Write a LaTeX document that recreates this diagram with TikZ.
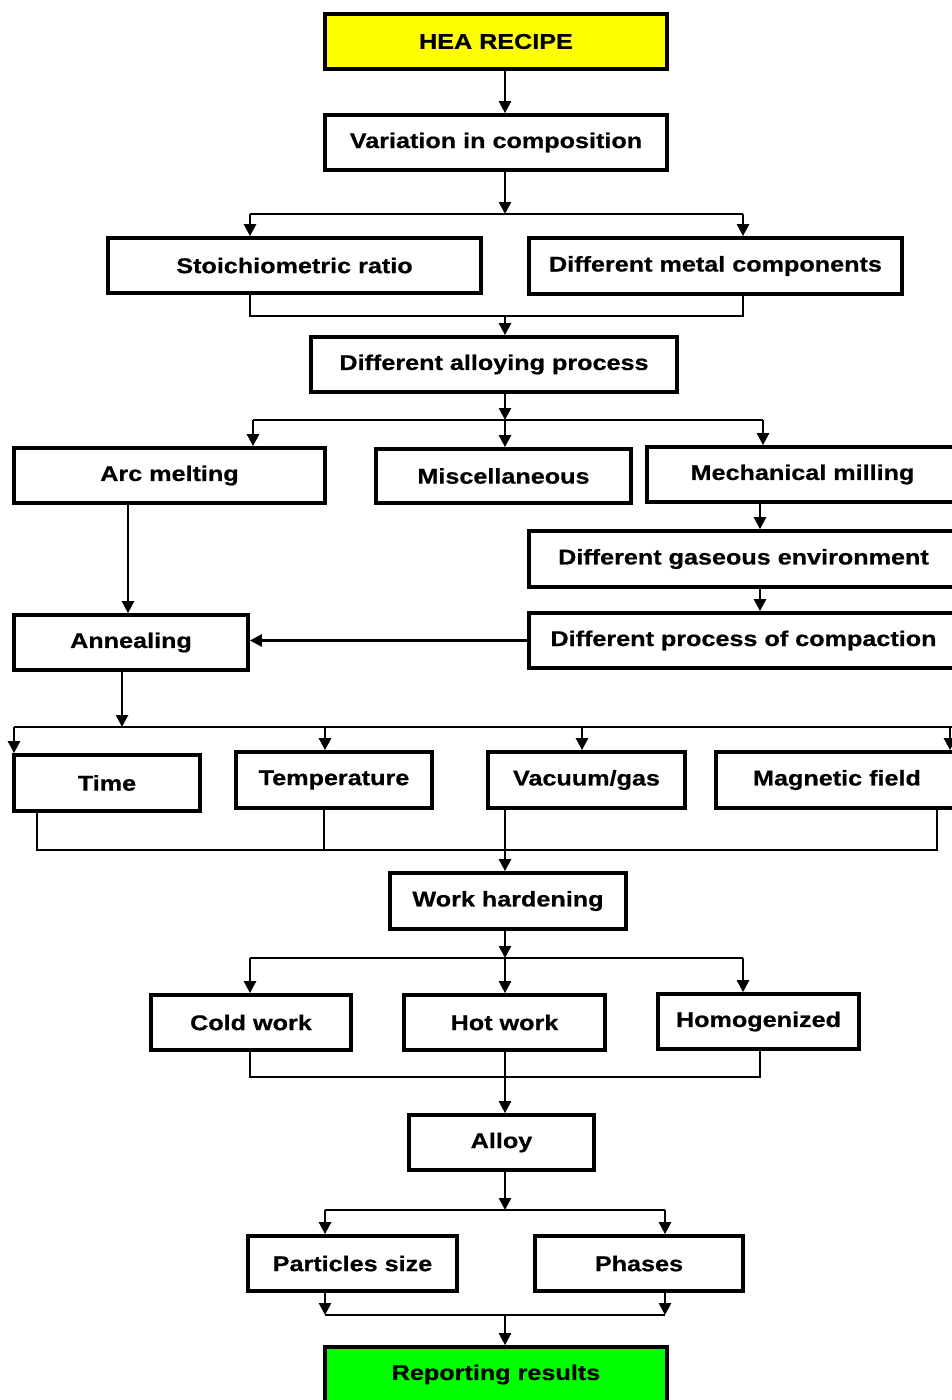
\documentclass[tikz,border=0pt]{standalone}
\usepackage{fontspec}
\setmainfont{Liberation Sans}[FakeStretch=1.2]
\newfontfamily\boxfont{Liberation Sans}[FakeStretch=1.18,FakeBold=0.6]
\usetikzlibrary{arrows.meta}
\definecolor{heayellow}{RGB}{255,255,0}
\definecolor{repgreen}{RGB}{0,255,0}
\tikzset{
  box/.style={draw, line width=2.8pt, inner sep=0pt, align=center,
    font=\fontsize{16}{18}\selectfont\boxfont\bfseries},
  conn/.style={line width=1.9pt},
  arr/.style={conn, -{Triangle[length=9pt,width=9pt]}},
}
\begin{document}
\begin{tikzpicture}[x=0.75pt,y=-0.75pt]
\path[use as bounding box, clip] (0,0) rectangle (952,1400);
\fill[white] (0,0) rectangle (952,1400);

% nodes
\node[box, fill=heayellow, minimum width=256.5pt, minimum height=41.25pt] (hea) at (496,41.5) {HEA RECIPE};
\node[box, minimum width=256.5pt, minimum height=41.25pt] (var) at (496,142.5) {Variation in composition};
\node[box, minimum width=279.75pt, minimum height=41.25pt] (stoich) at (294.5,265.5) {Stoichiometric ratio};
\node[box, minimum width=279.75pt, minimum height=42pt] (metal) at (715.5,266) {Different metal components};
\node[box, minimum width=274.5pt, minimum height=41.25pt] (alloying) at (494,364.5) {Different alloying process};
\node[box, minimum width=233.25pt, minimum height=41.25pt] (arc) at (169.5,475.5) {Arc melting};
\node[box, minimum width=191.25pt, minimum height=40.5pt] (misc) at (503.5,476) {Miscellaneous};
\node[box, minimum width=233.25pt, minimum height=41.25pt] (mech) at (802.5,474.5) {Mechanical milling};
\node[box, minimum width=321.75pt, minimum height=42pt] (gas) at (743.5,559) {Different gaseous environment};
\node[box, minimum width=321.75pt, minimum height=41.25pt] (comp) at (743.5,640.5) {Different process of compaction};
\node[box, minimum width=175.5pt, minimum height=41.25pt] (anneal) at (131,642.5) {Annealing};
\node[box, minimum width=139.5pt, minimum height=42pt] (time) at (107,783) {Time};
\node[box, minimum width=147pt, minimum height=42pt] (temp) at (334,780) {Temperature};
\node[box, minimum width=147.75pt, minimum height=42pt] (vac) at (586.5,780) {Vacuum/gas};
\node[box, minimum width=181.5pt, minimum height=42pt] (mag) at (837,780) {Magnetic field};
\node[box, minimum width=177pt, minimum height=42pt] (work) at (508,901) {Work hardening};
\node[box, minimum width=150pt, minimum height=41.25pt] (cold) at (251,1022.5) {Cold work};
\node[box, minimum width=150.75pt, minimum height=41.25pt] (hot) at (504.5,1022.5) {Hot work};
\node[box, minimum width=150.75pt, minimum height=41.25pt] (homog) at (758.5,1021.5) {Homogenized};
\node[box, minimum width=138.75pt, minimum height=41.25pt] (alloy) at (501.5,1142.5) {Alloy};
\node[box, minimum width=156.75pt, minimum height=41.25pt] (part) at (352.5,1263.5) {Particles size};
\node[box, minimum width=156pt, minimum height=41.25pt] (phase) at (639,1263.5) {Phases};
\node[box, fill=repgreen, minimum width=256.5pt, minimum height=41.25pt] (rep) at (496,1374.5) {Reporting results};

% reference x positions
\coordinate (xm) at (505,0);
\coordinate (xr) at (760,0);
\coordinate (xa) at (128,0);

% HEA -> Variation
\draw[arr] (hea.south -| xm) -- (var.north -| xm);

% split 1
\coordinate (t1) at (505,214);
\coordinate (t1l) at (250,214);
\coordinate (t1r) at (743,214);
\draw[arr] (var.south -| xm) -- (t1);
\draw[conn] (t1l) -- (t1r);
\draw[arr] (t1l) -- (t1l |- stoich.north);
\draw[arr] (t1r) -- (t1r |- metal.north);

% merge 1
\coordinate (m1) at (505,316);
\coordinate (m1l) at (250,316);
\coordinate (m1r) at (743,316);
\draw[conn] (stoich.south -| m1l) -- (m1l) -- (m1r) -- (metal.south -| m1r);
\draw[arr] (m1) -- (alloying.north -| m1);

% split 2
\coordinate (t2) at (505,420);
\coordinate (t2l) at (253,420);
\coordinate (t2r) at (763,420);
\draw[arr] (alloying.south -| xm) -- (t2);
\draw[conn] (t2l) -- (t2r);
\draw[arr] (t2l) -- (t2l |- arc.north);
\draw[arr] (t2) -- (t2 |- misc.north);
\draw[arr] (t2r) -- (t2r |- mech.north);

% milling chain
\draw[arr] (mech.south -| xr) -- (gas.north -| xr);
\draw[arr] (gas.south -| xr) -- (comp.north -| xr);
\draw[arr] (comp.west) -- (comp.west -| anneal.east);

% arc -> annealing
\draw[arr] (arc.south -| xa) -- (anneal.north -| xa);

% split 3
\coordinate (t3) at (122,727);
\coordinate (t3l) at (14,727);
\coordinate (t3r) at (958,727);
\coordinate (t3a) at (325,727);
\coordinate (t3b) at (582,727);
\coordinate (t3c) at (950,727);
\draw[arr] (anneal.south -| t3) -- (t3);
\draw[conn] (t3l) -- (t3r);
\draw[arr] (t3l) -- (t3l |- time.north);
\draw[arr] (t3a) -- (t3a |- temp.north);
\draw[arr] (t3b) -- (t3b |- vac.north);
\draw[arr] (t3c) -- (t3c |- mag.north);

% merge 3
\coordinate (m3l) at (37,850);
\coordinate (m3c) at (324,850);
\coordinate (m3r) at (937,850);
\draw[conn] (time.south -| m3l) -- (m3l) -- (m3r) -- (mag.south -| m3r);
\draw[conn] (temp.south -| m3c) -- (m3c);
\draw[arr] (vac.south -| xm) -- (work.north -| xm);

% split 4
\coordinate (t4) at (505,958);
\coordinate (t4l) at (250,958);
\coordinate (t4r) at (743,958);
\draw[arr] (work.south -| xm) -- (t4);
\draw[conn] (t4l) -- (t4r);
\draw[arr] (t4l) -- (t4l |- cold.north);
\draw[arr] (t4) -- (t4 |- hot.north);
\draw[arr] (t4r) -- (t4r |- homog.north);

% merge 4
\coordinate (m4l) at (250,1077);
\coordinate (m4r) at (760,1077);
\draw[conn] (cold.south -| m4l) -- (m4l) -- (m4r) -- (homog.south -| m4r);
\draw[arr] (hot.south -| xm) -- (alloy.north -| xm);

% split 5
\coordinate (t5) at (505,1210);
\coordinate (t5l) at (325,1210);
\coordinate (t5r) at (665,1210);
\draw[arr] (alloy.south -| xm) -- (t5);
\draw[conn] (t5l) -- (t5r);
\draw[arr] (t5l) -- (t5l |- part.north);
\draw[arr] (t5r) -- (t5r |- phase.north);

% merge 5
\coordinate (m5) at (505,1315);
\coordinate (m5l) at (325,1315);
\coordinate (m5r) at (665,1315);
\draw[arr] (part.south -| m5l) -- (m5l);
\draw[arr] (phase.south -| m5r) -- (m5r);
\draw[conn] (m5l) -- (m5r);
\draw[arr] (m5) -- (rep.north -| m5);
\end{tikzpicture}
\end{document}
